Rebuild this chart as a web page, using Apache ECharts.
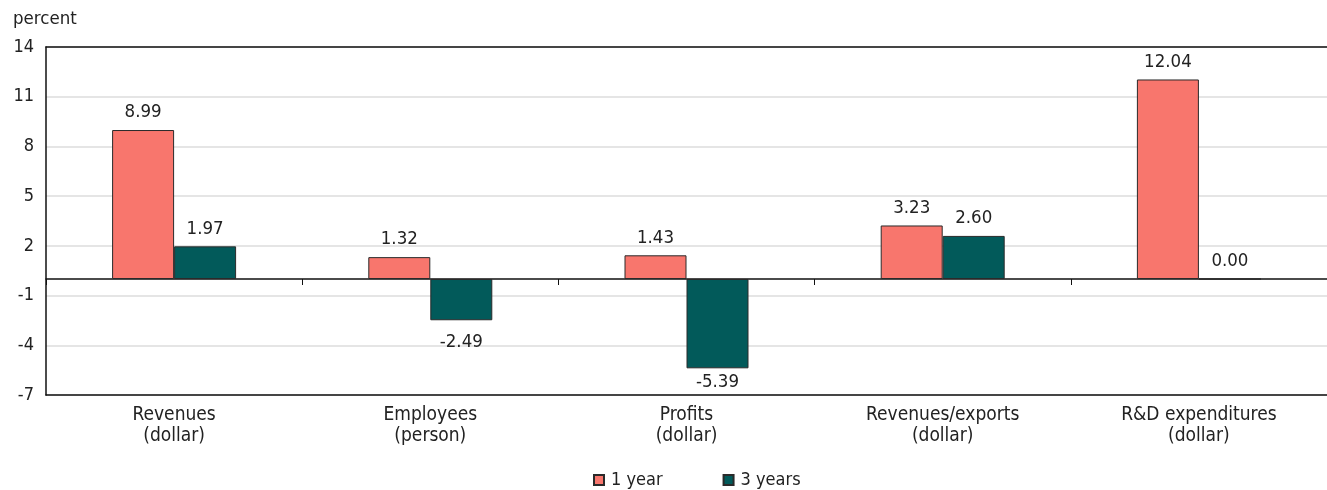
<!DOCTYPE html>
<html>
<head>
<meta charset="utf-8">
<script src="https://cdn.jsdelivr.net/npm/echarts@6/dist/echarts.min.js"></script>
<style>
  html, body { margin: 0; padding: 0; background: #fff; }
  #chart { width: 1327px; height: 490px; }
</style>
</head>
<body>
<div id="chart"></div>
<script>
// Year-over-year and three-year growth by indicator, in percent
const categories = [
  'Revenues\n(dollar)',
  'Employees\n(person)',
  'Profits\n(dollar)',
  'Revenues/exports\n(dollar)',
  'R&D expenditures\n(dollar)'
];
const oneYear = [8.99, 1.32, 1.43, 3.23, 12.04];
const threeYears = [1.97, -2.49, -5.39, 2.60, 0.00];
const yTicks = { min: -7, max: 14, interval: 3 };

const FONT = '"DejaVu Sans Condensed", "Liberation Sans Narrow", sans-serif';
const TEXT = '#222';

const chart = echarts.init(document.getElementById('chart'));

// labels below negative bars sit closer when the bar nears the bottom frame
function labelFor(v) {
  if (v >= 0) return { position: 'top' };
  return { position: 'bottom', distance: (v - yTicks.min) < 2 ? 4 : 12 };
}

function barSeries(name, values, color) {
  return {
    name: name,
    type: 'bar',
    xAxisIndex: 0,
    barWidth: 62,
    barGap: '0%',
    itemStyle: { color: color, borderColor: '#2a2a2a', borderWidth: 1 },
    label: {
      show: true,
      position: 'top',
      distance: 8,
      fontFamily: FONT,
      fontSize: 18.5,
      color: TEXT,
      formatter: p => p.value.toFixed(2)
    },
    data: values.map(v => ({ value: v, label: labelFor(v) }))
  };
}

chart.setOption({
  animation: false,
  textStyle: { fontFamily: FONT },
  title: {
    text: 'percent',
    left: 8,
    top: 5,
    textStyle: { fontFamily: FONT, fontSize: 18.5, fontWeight: 'normal', color: TEXT }
  },
  grid: { left: 46, right: 0, top: 47, bottom: 95 },
  legend: {
    top: 466,
    left: 588,
    itemWidth: 10,
    itemHeight: 10,
    itemGap: 60,
    icon: 'rect',
    textStyle: { fontFamily: FONT, fontSize: 18, color: TEXT, padding: [0, 0, 0, 2] },
    data: ['1 year', '3 years']
  },
  xAxis: [
    {
      // zero line with category boundary ticks
      type: 'category',
      data: categories,
      position: 'bottom',
      axisLine: { onZero: true, lineStyle: { color: '#111', width: 1.5 } },
      axisTick: { show: true, length: 6, lineStyle: { color: '#111' } },
      axisLabel: { show: false },
      splitLine: { show: false }
    },
    {
      // bottom frame line with category names
      type: 'category',
      data: categories,
      position: 'bottom',
      axisLine: { onZero: false, lineStyle: { color: '#111', width: 1.5 } },
      axisTick: { show: false },
      axisLabel: {
        margin: 10,
        fontFamily: FONT,
        fontSize: 19,
        lineHeight: 21,
        color: TEXT,
        interval: 0
      }
    },
    {
      // top frame line
      type: 'category',
      data: categories,
      position: 'top',
      axisLine: { onZero: false, lineStyle: { color: '#111', width: 1.5 } },
      axisTick: { show: false },
      axisLabel: { show: false }
    }
  ],
  yAxis: {
    type: 'value',
    min: yTicks.min,
    max: yTicks.max,
    interval: yTicks.interval,
    axisLine: { show: true, lineStyle: { color: '#111', width: 1.5 } },
    axisTick: { show: false },
    axisLabel: { fontFamily: FONT, fontSize: 18, color: TEXT, margin: 12 },
    splitLine: { show: true, lineStyle: { color: '#dcdcdc', width: 1.5 } }
  },
  series: [
    barSeries('1 year', oneYear, '#f8766d'),
    barSeries('3 years', threeYears, '#025a5a')
  ]
});
</script>
</body>
</html>
